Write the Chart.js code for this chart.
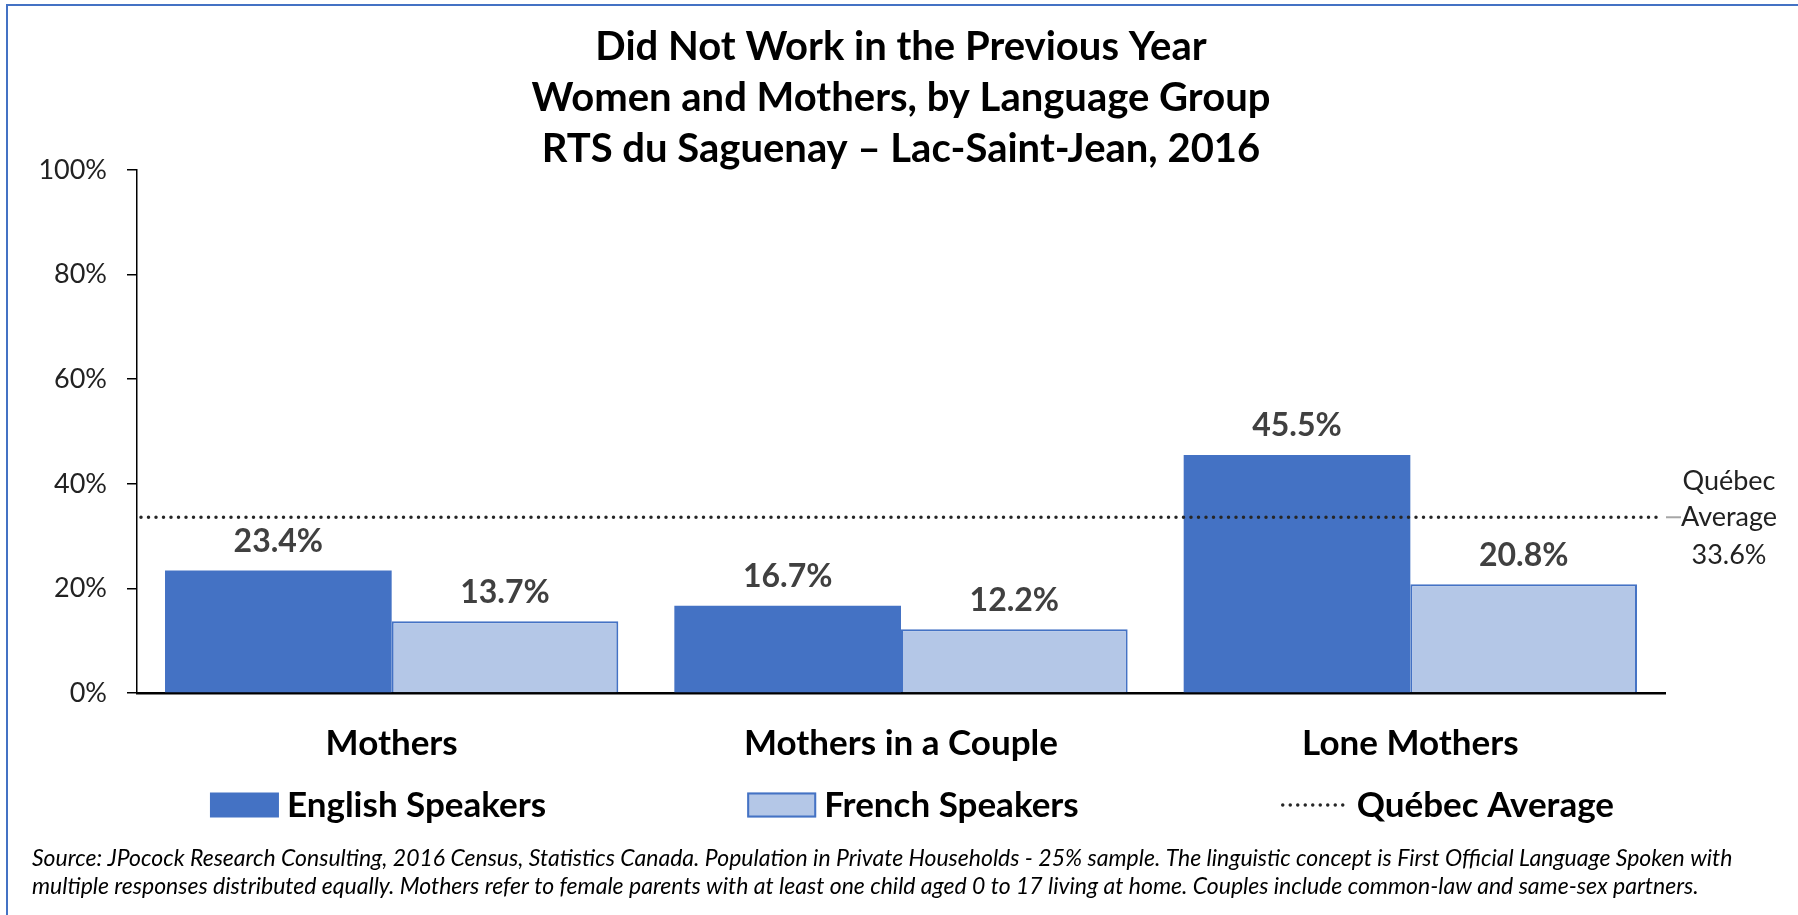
<!DOCTYPE html>
<html>
<head>
<meta charset="utf-8">
<title>Did Not Work in the Previous Year</title>
<script src="https://cdn.jsdelivr.net/npm/chart.js@4.4.0/dist/chart.umd.min.js"></script>
<style>
  html, body { margin: 0; padding: 0; background: #fff; }
</style>
</head>
<body>
<canvas id="chart" width="1798" height="915"></canvas>
<script>
const categories = ['Mothers', 'Mothers in a Couple', 'Lone Mothers'];
const englishSpeakers = [23.4, 16.7, 45.5];
const frenchSpeakers = [13.7, 12.2, 20.8];
const quebecAverage = 33.6;
const yTicks = [0, 20, 40, 60, 80, 100];

const titleLines = [
    'Did Not Work in the Previous Year',
    'Women and Mothers, by Language Group',
    'RTS du Saguenay – Lac-Saint-Jean, 2016'
];
const sourceLines = [
    'Source: JPocock Research Consulting, 2016 Census, Statistics Canada. Population in Private Households - 25% sample. The linguistic concept is First Official Language Spoken with',
    'multiple responses distributed equally. Mothers refer to female parents with at least one child aged 0 to 17 living at home. Couples include common-law and same-sex partners.'
];
const averageName = 'Québec Average';
const averageNote = ['Québec', 'Average'];

const FONT = "Lato, 'Open Sans', sans-serif";
const BLUE = '#4472C4';
const LIGHT_BLUE = '#B4C7E7';
const DOTS = {color: '#262626', width: 3.5, dash: [0, 7.5]};

// cadre bleu (haut et gauche seulement, comme sur la capture)
const frame = {
    id: 'frame',
    beforeDraw(chart) {
        const {ctx, width, height} = chart;
        ctx.save();
        ctx.fillStyle = '#fff';
        ctx.fillRect(0, 0, width, height);
        ctx.strokeStyle = BLUE;
        ctx.lineWidth = 2;
        ctx.beginPath();
        ctx.moveTo(7, height);
        ctx.lineTo(7, 5);
        ctx.lineTo(width, 5);
        ctx.stroke();
        ctx.restore();
    }
};

// ligne pointillée de la moyenne du Québec, placée avec l'échelle y
const averageLine = {
    id: 'averageLine',
    afterDatasetsDraw(chart) {
        const {ctx, chartArea, scales} = chart;
        const y = scales.y.getPixelForValue(quebecAverage);
        ctx.save();
        ctx.strokeStyle = DOTS.color;
        ctx.lineWidth = DOTS.width;
        ctx.lineCap = 'round';
        ctx.setLineDash(DOTS.dash);
        ctx.beginPath();
        ctx.moveTo(chartArea.left + 4, y);
        ctx.lineTo(chartArea.right - 2, y);
        ctx.stroke();
        ctx.restore();
    }
};

// valeurs au-dessus des barres
const valueLabels = {
    id: 'valueLabels',
    afterDatasetsDraw(chart) {
        const ctx = chart.ctx;
        ctx.save();
        ctx.font = 'bold 32px ' + FONT;
        ctx.fillStyle = '#404040';
        ctx.textAlign = 'center';
        ctx.textBaseline = 'middle';
        chart.data.datasets.forEach((ds, i) => {
            chart.getDatasetMeta(i).data.forEach((bar, j) => {
                ctx.fillText(ds.data[j].toFixed(1) + '%', bar.x, bar.y - 29);
            });
        });
        ctx.restore();
    }
};

// étiquette "Québec Average" à droite de la ligne pointillée
const averageLabel = {
    id: 'averageLabel',
    afterDraw(chart) {
        const {ctx, chartArea, scales} = chart;
        const y = scales.y.getPixelForValue(quebecAverage);
        ctx.save();
        ctx.strokeStyle = '#A6A6A6';
        ctx.lineWidth = 2;
        ctx.beginPath();
        ctx.moveTo(chartArea.right + 1, y);
        ctx.lineTo(chartArea.right + 16, y);
        ctx.stroke();
        ctx.font = '27px ' + FONT;
        ctx.fillStyle = '#222';
        ctx.textAlign = 'center';
        ctx.textBaseline = 'middle';
        const cx = chartArea.right + 64;
        ctx.fillText(averageNote[0], cx, y - 36);
        ctx.fillText(averageNote[1], cx, y);
        ctx.fillText(quebecAverage.toFixed(1) + '%', cx, y + 38);
        ctx.restore();
    }
};

// légende sur une ligne, avec de grands espaces entre les éléments
const legendRow = {
    id: 'legendRow',
    afterDraw(chart) {
        const ctx = chart.ctx;
        const y = chart.scales.x.bottom + 37;
        const swatchW = 69, swatchH = 25, gapText = 8, gapItem = 201;
        ctx.save();
        ctx.font = 'bold 35px ' + FONT;
        ctx.textBaseline = 'middle';
        ctx.textAlign = 'left';
        const entries = chart.data.datasets.map(ds => ({label: ds.label, ds: ds}));
        entries.push({label: averageName, ds: null});
        entries.forEach(it => { it.w = swatchW + gapText + ctx.measureText(it.label).width; });
        const total = entries.reduce((s, it) => s + it.w, 0) + gapItem * (entries.length - 1);
        let x = 912 - total / 2;
        entries.forEach(it => {
            const ds = it.ds;
            if (!ds) {
                ctx.save();
                ctx.strokeStyle = DOTS.color;
                ctx.lineWidth = DOTS.width;
                ctx.lineCap = 'round';
                ctx.setLineDash(DOTS.dash);
                ctx.beginPath();
                ctx.moveTo(x + 3, y);
                ctx.lineTo(x + swatchW - 3, y);
                ctx.stroke();
                ctx.restore();
            } else {
                ctx.fillStyle = ds.backgroundColor;
                ctx.fillRect(x, y - swatchH / 2, swatchW, swatchH);
                if (ds.borderWidth) {
                    ctx.strokeStyle = ds.borderColor;
                    ctx.lineWidth = ds.borderWidth;
                    ctx.strokeRect(x + 1, y - swatchH / 2 + 1, swatchW - 2, swatchH - 2);
                }
            }
            ctx.fillStyle = '#000';
            ctx.fillText(it.label, x + swatchW + gapText, y + 1);
            x += it.w + gapItem;
        });
        ctx.restore();
    }
};

new Chart(document.getElementById('chart'), {
    type: 'bar',
    data: {
        labels: categories,
        datasets: [{
            label: 'English Speakers',
            data: englishSpeakers,
            backgroundColor: BLUE,
            borderColor: BLUE,
            borderWidth: 0
        }, {
            label: 'French Speakers',
            data: frenchSpeakers,
            backgroundColor: LIGHT_BLUE,
            borderColor: BLUE,
            borderWidth: 2
        }]
    },
    options: {
        responsive: false,
        animation: false,
        events: [],
        datasets: {bar: {categoryPercentage: 0.89, barPercentage: 1}},
        layout: {padding: {top: 22, left: 32, right: 0, bottom: 0}},
        plugins: {
            legend: {display: false},
            tooltip: {enabled: false},
            title: {
                display: true,
                text: titleLines,
                fullSize: false,
                color: '#000',
                font: {family: FONT, size: 40, weight: 'bold', lineHeight: '51px'},
                padding: {top: 0, bottom: -5}
            },
            subtitle: {
                display: true,
                position: 'bottom',
                align: 'start',
                text: sourceLines,
                color: '#000',
                font: {family: FONT, size: 23, style: 'italic', lineHeight: '28.5px'},
                padding: {top: 76, bottom: 14}
            }
        },
        scales: {
            x: {
                grid: {display: false, drawTicks: false},
                border: {color: '#000', width: 2.5},
                ticks: {color: '#000', font: {family: FONT, size: 35, weight: 'bold'}, padding: 30},
                afterFit(s) { s.height = 75; }
            },
            y: {
                min: 0,
                max: 100,
                afterBuildTicks(s) { s.ticks = yTicks.map(v => ({value: v})); },
                ticks: {callback: v => v + '%', color: '#222', font: {family: FONT, size: 27}, padding: 20},
                grid: {drawOnChartArea: false, tickLength: 10, color: '#000', lineWidth: 1.5},
                border: {color: '#000', width: 1.5},
                afterFit(s) { s.width = 105; }
            },
            // axe vide à droite : réserve la place de l'étiquette "Québec Average"
            yRight: {
                position: 'right',
                ticks: {display: false},
                grid: {display: false},
                border: {display: false},
                afterFit(s) { s.width = 133; }
            }
        }
    },
    plugins: [frame, averageLine, valueLabels, averageLabel, legendRow]
});
</script>
</body>
</html>
